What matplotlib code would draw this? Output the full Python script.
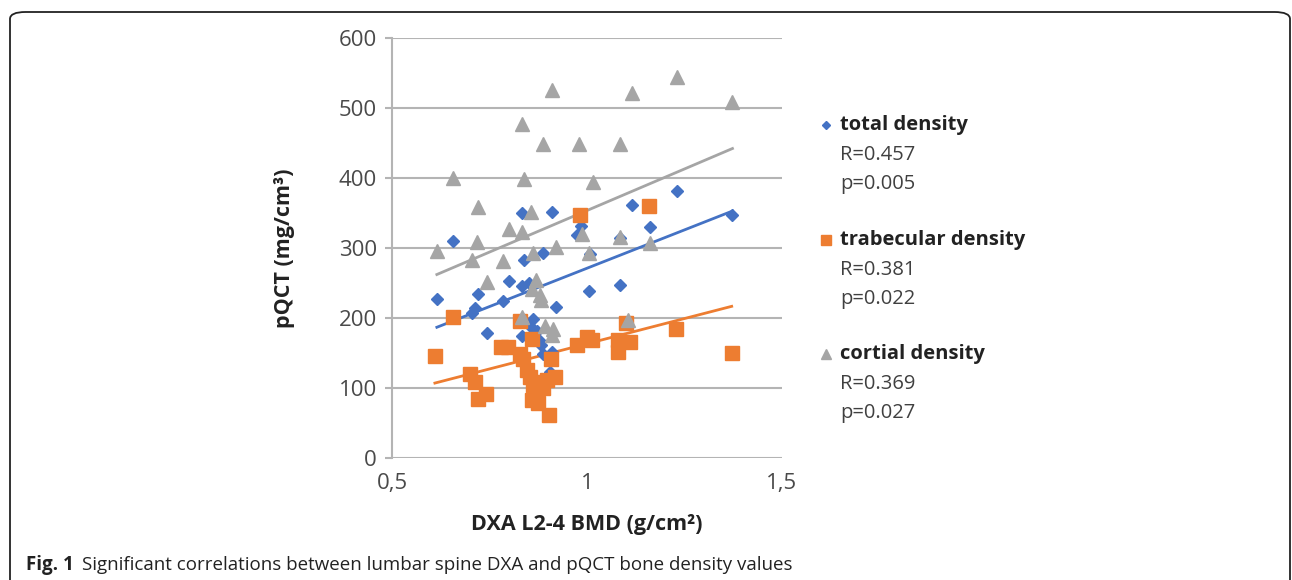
import numpy as np
import matplotlib.pyplot as plt
from matplotlib.patches import FancyBboxPatch

plt.rcParams['font.family'] = ['Open Sans', 'DejaVu Sans']

# total density (blue diamonds)
total_x = [0.615, 0.657, 0.704, 0.713, 0.721, 0.743, 0.784, 0.801, 0.833, 0.833, 0.838, 0.852,
           0.833, 0.854, 0.862, 0.871, 0.878, 0.881, 0.888, 0.888, 0.909, 0.909, 0.905, 0.920,
           0.975, 0.985, 1.006, 1.008, 1.085, 1.085, 1.115, 1.162, 1.230, 1.373]
total_y = [227, 310, 207, 214, 234, 179, 225, 253, 350, 246, 283, 250,
           174, 189, 198, 182, 169, 161, 293, 149, 352, 152, 123, 216,
           319, 332, 239, 292, 314, 247, 361, 330, 381, 347]

# trabecular density (orange squares)
trab_x = [0.610, 0.656, 0.700, 0.713, 0.720, 0.741, 0.779, 0.798, 0.828, 0.828, 0.837, 0.845,
          0.854, 0.858, 0.858, 0.862, 0.875, 0.875, 0.888, 0.897, 0.903, 0.907, 0.918, 0.975,
          0.982, 0.999, 1.012, 1.080, 1.080, 1.100, 1.110, 1.159, 1.227, 1.371]
trab_y = [146, 202, 120, 108, 85, 92, 159, 158, 196, 149, 141, 126,
          116, 170, 83, 104, 109, 79, 100, 111, 61, 141, 116, 161,
          347, 173, 168, 169, 152, 193, 166, 360, 184, 150]

# cortical density (gray triangles)
cort_x = [0.615, 0.657, 0.704, 0.717, 0.721, 0.743, 0.784, 0.801, 0.833, 0.833, 0.838, 0.833,
          0.856, 0.858, 0.862, 0.869, 0.879, 0.881, 0.888, 0.892, 0.909, 0.912, 0.909, 0.920,
          0.979, 0.986, 1.004, 1.016, 1.085, 1.085, 1.104, 1.115, 1.162, 1.230, 1.373]
cort_y = [296, 400, 283, 308, 358, 252, 281, 327, 477, 323, 398, 201,
          352, 241, 293, 254, 233, 226, 449, 188, 526, 185, 176, 302,
          449, 320, 293, 395, 449, 315, 197, 521, 307, 544, 508]

series = [
    ("total density", total_x, total_y, '#4472C4', 'D', 6.5, ["R=0.457", "p=0.005"]),
    ("trabecular density", trab_x, trab_y, '#ED7D31', 's', 9.5, ["R=0.381", "p=0.022"]),
    ("cortial density", cort_x, cort_y, '#A5A5A5', '^', 10, ["R=0.369", "p=0.027"]),
]

fig = plt.figure(figsize=(12.92, 5.8), dpi=100)
ax = fig.add_axes([392 / 1292, 1 - 458 / 580, 390 / 1292, 420 / 580])

# fitted lines first so markers sit on top
for name, xs, ys, col, mk, ms, stats in series:
    xs = np.array(xs)
    k, b = np.polyfit(xs, ys, 1)
    xl = np.array([xs.min(), xs.max()])
    ax.plot(xl, k * xl + b, color=col, lw=2, zorder=2)

for name, xs, ys, col, mk, ms, stats in series:
    ax.plot(xs, ys, linestyle='none', marker=mk, ms=ms, color=col, zorder=3)

ax.set_xlim(0.5, 1.5)
ax.set_ylim(0, 600)
ax.set_xticks([0.5, 1, 1.5])
ax.set_xticklabels(["0,5", "1", "1,5"])
ax.set_yticks(range(0, 601, 100))
ax.yaxis.grid(True, color='#b4b4b4', lw=1.5)
ax.set_axisbelow(True)
for s in ['top', 'right', 'bottom']:
    ax.spines[s].set_visible(False)
ax.spines['left'].set_color('#b4b4b4')
ax.spines['left'].set_linewidth(1.5)
ax.tick_params(axis='y', colors='#b4b4b4', labelcolor='#4a4a4a', labelsize=16, length=5, width=1.5, pad=6)
ax.tick_params(axis='x', length=0, labelcolor='#4a4a4a', labelsize=16, pad=11)
ax.set_ylabel("pQCT (mg/cm³)", fontsize=15.5, fontweight='bold', color='#222222', labelpad=31)
ax.set_xlabel("DXA L2-4 BMD (g/cm²)", fontsize=15.5, fontweight='bold', color='#222222', labelpad=14)

# legend with statistics on the right
y0 = [125, 240, 354]
for (name, xs, ys, col, mk, ms, stats), yp in zip(series, y0):
    fig.lines.append(plt.Line2D([826 / 1292], [1 - yp / 580], transform=fig.transFigure,
                                marker=mk, ms=ms * 0.7, color=col, linestyle='none'))
    fig.text(840 / 1292, 1 - yp / 580, name, fontsize=14.5, fontweight='bold', color='#222222', va='center')
    fig.text(840 / 1292, 1 - (yp + 30) / 580, stats[0], fontsize=14.5, color='#404040', va='center')
    fig.text(840 / 1292, 1 - (yp + 59) / 580, stats[1], fontsize=14.5, color='#404040', va='center')

# frame and caption
frame = FancyBboxPatch((10 / 1292, -0.05), 1280 / 1292, 1.05 - 12 / 580, transform=fig.transFigure,
                       boxstyle="round,pad=0,rounding_size=0.012", fc='none', ec='#222222', lw=1.3)
fig.patches.append(frame)
fig.text(26 / 1292, 1 - 565 / 580, "Fig. 1", fontsize=13.5, fontweight='bold', va='center', color='#222222')
fig.text(82 / 1292, 1 - 565 / 580, "Significant correlations between lumbar spine DXA and pQCT bone density values",
         fontsize=13.5, va='center', color='#222222')

fig.savefig("out.png", dpi=100)
